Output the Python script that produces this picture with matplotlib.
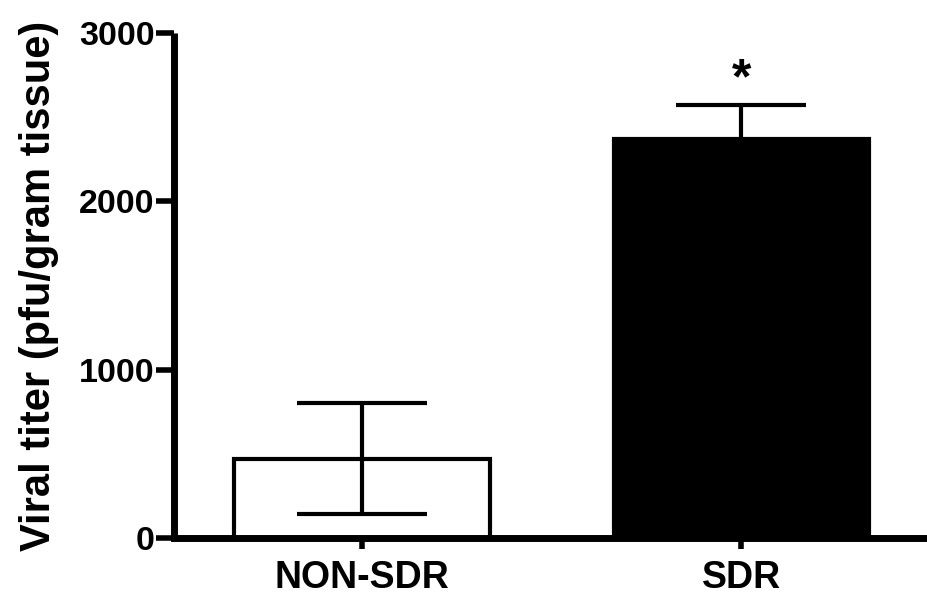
import matplotlib
matplotlib.use("Agg")
import matplotlib.pyplot as plt

categories = ["NON-SDR", "SDR"]
means = [470, 2370]
sem = [330, 205]
bar_colors = ["white", "black"]
yticks = [0, 1000, 2000, 3000]
ylabel = "Viral titer (pfu/gram tissue)"
annotation = "*"

plt.rcParams['font.family'] = ['Liberation Sans', 'DejaVu Sans']
plt.rcParams['font.weight'] = 'bold'

fig = plt.figure(figsize=(9.28, 6.0), dpi=100)
ax = fig.add_axes([0.1875, 0.1033, 0.8125, 0.8417])

x = list(range(len(categories)))
ax.bar(x, means, width=0.673, color=bar_colors, edgecolor="black",
       linewidth=3, zorder=2)
ax.errorbar(x, means, yerr=sem, fmt="none", ecolor="black",
            elinewidth=3, capsize=47, capthick=3, zorder=3)

ax.text(1, means[1] + sem[1] + 10, annotation, ha="center", va="bottom",
        fontsize=36, fontweight="bold")

ax.set_xlim(-0.496, 1.493)
ax.set_ylim(0, 3000)
ax.set_yticks(yticks)
ax.set_yticklabels([str(v) for v in yticks], fontsize=24.5, fontweight="bold")
ax.set_xticks(x)
ax.set_xticklabels(categories, fontsize=27, fontweight="bold")
ax.set_ylabel(ylabel, fontsize=30, fontweight="bold", labelpad=14)

for s in ["top", "right"]:
    ax.spines[s].set_visible(False)
for s in ["left", "bottom"]:
    ax.spines[s].set_linewidth(5)
ax.spines["left"].set_capstyle("butt")
ax.tick_params(axis="y", length=13, width=4, pad=1)
ax.tick_params(axis="x", length=8, width=4, pad=8)

fig.savefig("out.png", dpi=100)
